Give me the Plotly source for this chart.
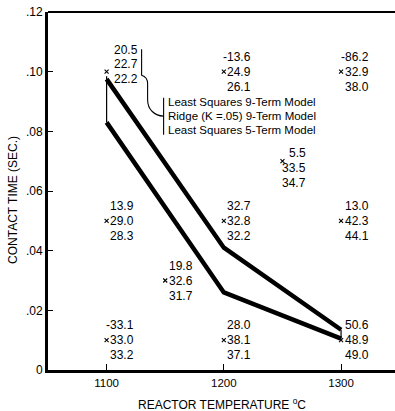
import plotly.graph_objects as go

# ---- data ----
temps = [1100, 1200, 1300, 1100, 1150, 1200, 1250, 1300, 1100, 1200, 1300]
times = [0.10, 0.10, 0.10, 0.05, 0.03, 0.05, 0.07, 0.05, 0.01, 0.01, 0.01]
ls9 = ["20.5", "-13.6", "-86.2", "13.9", "19.8", "32.7", "5.5", "13.0", "-33.1", "28.0", "50.6"]
ridge9 = ["22.7", "24.9", "32.9", "29.0", "32.6", "32.8", "33.5", "42.3", "33.0", "38.1", "48.9"]
ls5 = ["22.2", "26.1", "38.0", "28.3", "31.7", "32.2", "34.7", "44.1", "33.2", "37.1", "49.0"]

upper_t = [1100, 1200, 1300]
upper_c = [0.0975, 0.041, 0.0135]
lower_t = [1100, 1200, 1300]
lower_c = [0.083, 0.026, 0.0105]
left_t = [1100, 1100]
left_c = [0.0985, 0.083]
right_t = [1300, 1300]
right_c = [0.0135, 0.0105]

legend_lines = ["Least Squares 9-Term Model", "Ridge (K =.05) 9-Term Model", "Least Squares 5-Term Model"]

ytick_vals = [0, 0.02, 0.04, 0.06, 0.08, 0.10, 0.12]
ytick_text = ["0", ".02", ".04", ".06", ".08", ".10", ".12"]
xtick_vals = [1100, 1200, 1300]
xtick_text = ["1100", "1200", "1300"]

FONT = "Liberation Sans Narrow, Liberation Sans, Arial, sans-serif"
FS = 12

fig = go.Figure()
fig.add_trace(go.Scatter(x=upper_t, y=upper_c, mode="lines",
                         line=dict(color="black", width=4.5), hoverinfo="skip"))
fig.add_trace(go.Scatter(x=lower_t, y=lower_c, mode="lines",
                         line=dict(color="black", width=4.5), hoverinfo="skip"))
fig.add_trace(go.Scatter(x=left_t, y=left_c, mode="lines",
                         line=dict(color="black", width=1.2), hoverinfo="skip"))
fig.add_trace(go.Scatter(x=right_t, y=right_c, mode="lines",
                         line=dict(color="black", width=1.2), hoverinfo="skip"))
fig.add_trace(go.Scatter(x=temps, y=times, mode="markers",
                         marker=dict(symbol="x-thin", size=4, color="black",
                                     line=dict(color="black", width=1.1)),
                         hoverinfo="skip"))

# label offsets (pixels) per point: xshift of right edge, row yshifts
default_off = (29.5, (15, 0, -15))
special = {(1100, 0.10): (33, (22, 7.5, -7.5)), (1250, 0.07): (26, (8, -7, -22))}

annotations = []
for t, c, a, b, d in zip(temps, times, ls9, ridge9, ls5):
    xs, ys = special.get((t, c), default_off)
    for txt, yshift in zip((a, b, d), ys):
        annotations.append(dict(x=t, y=c, xref="x", yref="y", text=txt, showarrow=False,
                                xanchor="right", yanchor="middle", xshift=xs, yshift=yshift,
                                font=dict(family=FONT, size=FS, color="black")))

# key text anchored to first point
for i, txt in enumerate(legend_lines):
    annotations.append(dict(x=temps[0], y=times[0], xref="x", yref="y", text=txt, showarrow=False,
                            xanchor="left", yanchor="middle", xshift=59, yshift=-30.5 - 14 * i,
                            font=dict(family=FONT, size=11.5, color="black")))

# axis titles
annotations.append(dict(x=0.5, y=0, xref="paper", yref="paper", yanchor="middle", xanchor="center",
                        yshift=-34, text="REACTOR TEMPERATURE <sup>o</sup>C", showarrow=False,
                        font=dict(family=FONT, size=FS, color="black")))
annotations.append(dict(x=0, y=0.475, xref="paper", yref="paper", xanchor="center", yanchor="middle",
                        xshift=-35, text="CONTACT TIME (SEC.)", textangle=-90, showarrow=False,
                        font=dict(family=FONT, size=FS, color="black")))

shapes = [
    dict(type="line", xref="paper", yref="paper", x0=0, x1=1, y0=1, y1=1,
         line=dict(color="black", width=2)),
    dict(type="path", xref="x", yref="y", xsizemode="pixel", ysizemode="pixel",
         xanchor=temps[0], yanchor=times[0],
         path="M 35,22.5 L 35,-3.5 C 40,-5 41,-8 41,-12 L 41,-28 C 41,-38 48,-44 57,-44.5",
         line=dict(color="black", width=1.1)),
    dict(type="line", xref="x", yref="y", xsizemode="pixel", ysizemode="pixel",
         xanchor=temps[0], yanchor=times[0], x0=57, x1=57, y0=-26, y1=-63,
         line=dict(color="black", width=1.1)),
]

fig.update_layout(
    width=395, height=411,
    margin=dict(l=48, r=0, t=12, b=41),
    paper_bgcolor="white", plot_bgcolor="white",
    showlegend=False,
    annotations=annotations, shapes=shapes,
    font=dict(family=FONT, size=FS, color="black"),
    xaxis=dict(range=[1050, 1346], showgrid=False, zeroline=False,
               showline=True, linewidth=3, linecolor="black",
               ticks="inside", ticklen=6, tickwidth=1.2, tickcolor="black",
               tickvals=xtick_vals, ticktext=xtick_text,
               tickfont=dict(family=FONT, size=11.5, color="black")),
    yaxis=dict(range=[0, 0.12], showgrid=False, zeroline=False,
               showline=True, linewidth=3, linecolor="black",
               ticks="inside", ticklen=5, tickwidth=1.2, tickcolor="black",
               tickvals=ytick_vals, ticktext=ytick_text,
               tickfont=dict(family=FONT, size=12, color="black")),
)

fig.write_html("out.html", config={"displayModeBar": False},
               post_script="document.body.style.margin='0px';document.body.style.overflow='hidden';")
